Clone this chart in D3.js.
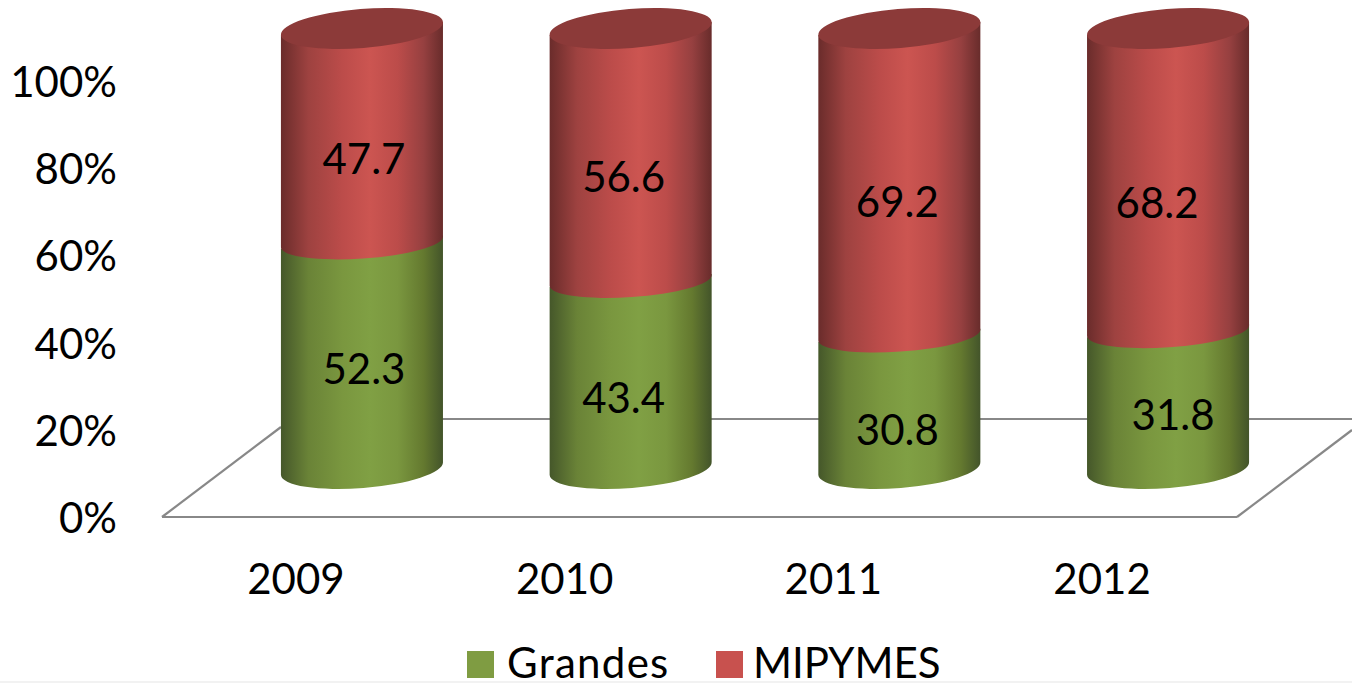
<!DOCTYPE html>
<html><head><meta charset="utf-8">
<script src="https://cdn.jsdelivr.net/npm/d3@7"></script>
<style>html,body{margin:0;padding:0;background:#fff;overflow:hidden}svg{display:block}text{font-family:Lato,sans-serif;fill:#000}</style>
</head><body><svg id="c" width="1352" height="683"></svg>
<script>
const years = ["2009","2010","2011","2012"];
const grandes = [52.3,43.4,30.8,31.8];
const mipymes = [47.7,56.6,69.2,68.2];
const yTicks = [0,20,40,60,80,100];
const seriesNames = ["Grandes","MIPYMES"];

// presentation
const labelNudge = {Grandes:[[2,13],[-7,22],[-2,27],[5,14]], MIPYMES:[[2,23],[-7,21],[-2,19],[-11,22]]};
const pal = {
  Grandes:{solid:"#7F9C42",stops:["#45572A","#6A8337","#7A973F","#80A044","#7A973F","#64792F","#43542A"]},
  MIPYMES:{solid:"#C8514E",stops:["#6A2C2B","#9E4240","#BC4C4A","#CC5551","#BC4C4A","#964040","#682C2B"]}
};
const capColor = "#8C3A39", floorColor = "#888888";
const stopAt = [0,.17,.38,.55,.72,.88,1];

const svg = d3.select("#c");
const x = d3.scaleBand().domain(years).range([227.6,1302.4]).paddingInner(.397).paddingOuter(.1985);
const yBar = d3.scaleLinear().domain([0,100]).range([468.5,35.5]);   // along the cylinders
const yAxis = d3.scaleLinear().domain([0,100]).range([519,83]);      // tick labels
const capLift = 7, tilt = 6.5, ry = 19.5, midTilt = 5.5, midRy = 16.5;
const half = x.bandwidth()/2;
const ang = t => -Math.atan2(t,half)*180/Math.PI;
const rad = t => Math.hypot(half,t);

svg.append("rect").attr("x",0).attr("y",681).attr("width",1352).attr("height",2).attr("fill","#F2F2F2");

const defs = svg.append("defs");
seriesNames.forEach(n=>{
  const g = defs.append("linearGradient").attr("id","g"+n).attr("x1",0).attr("x2",1).attr("y1",0).attr("y2",0);
  pal[n].stops.forEach((c,i)=>g.append("stop").attr("offset",stopAt[i]).attr("stop-color",c));
});

// floor
const fl = svg.append("g").attr("fill","none").attr("stroke",floorColor).attr("stroke-width",2.2);
const f0 = yAxis(0)-2;
fl.append("path").attr("d",d3.line()([[162,f0],[281,f0-90]]));
fl.append("path").attr("d",d3.line()([[162,f0],[1237,f0]]));
fl.append("path").attr("d",d3.line()([[1237,f0],[1352,f0-87]]));
fl.append("path").attr("d",d3.line()([[281,f0-98],[1352,f0-98]]));

// cylinders
function seg(l,r,b,bT,bR,t){
  return `M${l},${b+bT}A${rad(bT)},${bR} ${ang(bT)} 0 0 ${r},${b-bT}L${r},${t-tilt}L${l},${t+tilt}Z`;
}
years.forEach((yr,i)=>{
  const l = x(yr), r = l+x.bandwidth(), cx=(l+r)/2;
  const b0 = yBar(0), b1 = yBar(grandes[i]);
  const top = yBar(grandes[i]+mipymes[i]) - capLift;
  svg.append("path").attr("d",seg(l,r,b0,tilt,ry,b1)).attr("fill","url(#gGrandes)");
  svg.append("path").attr("d",seg(l,r,b1,midTilt,midRy,top)).attr("fill","url(#gMIPYMES)");
  svg.append("ellipse").attr("cx",0).attr("cy",0).attr("rx",rad(tilt)).attr("ry",ry)
    .attr("transform",`translate(${cx},${top}) rotate(${ang(tilt)})`).attr("fill",capColor);
});

// data labels
const fs = 42;
function dl(name,vals,mid){
  vals.forEach((v,i)=>{
    const n = labelNudge[name][i];
    svg.append("text").attr("x",x(years[i])+x.bandwidth()/2+n[0]).attr("y",mid(i)+n[1])
      .attr("text-anchor","middle").attr("dominant-baseline","central").attr("font-size",fs).text(v.toFixed(1));
  });
}
dl("Grandes",grandes,i=>yBar(grandes[i]/2));
dl("MIPYMES",mipymes,i=>(yBar(grandes[i])+yBar(100)-capLift)/2);

// axes
const ax = svg.append("g").attr("transform","translate(117,0)")
  .call(d3.axisLeft(yAxis).tickValues(yTicks).tickFormat(d=>d+"%").tickSize(0).tickPadding(0));
ax.select(".domain").remove();
ax.selectAll("text").style("font-family","Lato").attr("font-size",fs).attr("fill","#000");
const bx = svg.append("g").attr("transform","translate(-66,578)");
bx.selectAll("text").data(years).join("text").attr("x",d=>x(d)+x.bandwidth()/2).attr("y",0)
  .attr("text-anchor","middle").attr("dominant-baseline","central").attr("font-size",fs).text(d=>d);

// legend
const lg = [[467,507,1.3],[716,753,0]];
seriesNames.forEach((n,i)=>{
  svg.append("rect").attr("x",lg[i][0]).attr("y",651).attr("width",27).attr("height",27).attr("fill",pal[n].solid);
  svg.append("text").attr("x",lg[i][1]).attr("y",678).attr("font-size",fs).attr("letter-spacing",lg[i][2]).text(n);
});
</script></body></html>
